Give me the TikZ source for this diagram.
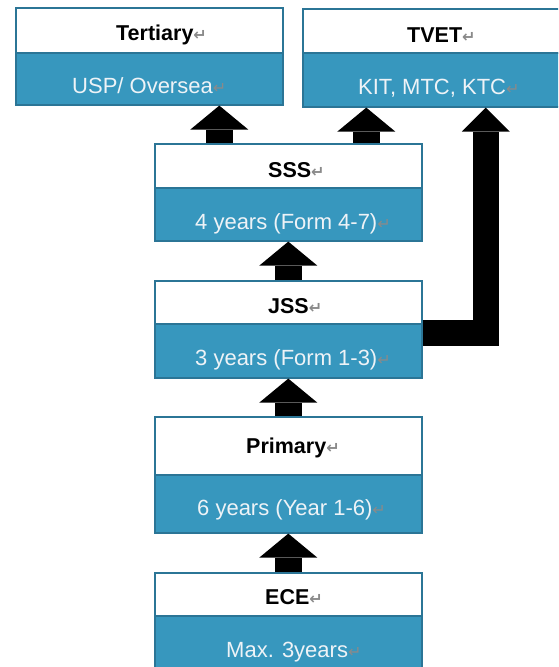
\documentclass[tikz,border=0pt]{standalone}
\usepackage{fontspec}
\setmainfont{Liberation Sans}
\newfontfamily\symfont{DejaVu Sans}
\usetikzlibrary{arrows.meta}
\definecolor{boxblue}{HTML}{3797BE}
\definecolor{boxedge}{HTML}{2B7596}
\definecolor{bodytext}{HTML}{EEF3F7}
\definecolor{retgray}{HTML}{8A8A8A}
\newcommand{\retmark}{{\symfont\fontsize{16}{16}\selectfont\color{retgray}↵}}
\tikzset{
  headbox/.style={draw=boxedge, line width=1.6pt, fill=white, minimum width=267pt, inner sep=0pt, anchor=north west},
  bodybox/.style={draw=boxedge, line width=1.6pt, fill=boxblue, minimum width=267pt, inner sep=0pt, anchor=north west},
  headtext/.style={anchor=base west, inner sep=0pt, font=\fontsize{21.5}{22}\selectfont\bfseries, text=black},
  bodytxt/.style={anchor=base west, inner sep=0pt, font=\fontsize{22}{23}\selectfont, text=bodytext},
  blockarrow/.style={line width=27pt, draw=black, line join=miter, -{Triangle[width=58pt,length=24pt,line width=0pt]}},
  longarrow/.style={line width=25.5pt, draw=black, line join=miter, -{Triangle[width=48pt,length=24pt,line width=0pt]}}
}
\begin{document}
\begin{tikzpicture}[x=1pt,y=1pt]
\useasboundingbox (0,-667) rectangle (558,0);
\clip (0,-667) rectangle (558,0);
\fill[white] (0,-667) rectangle (558,0);
% boxes
\node[headbox, minimum height=45pt] (tertT) at (15,-7) {};
\node[bodybox, minimum height=52pt] (tertB) at (15,-52) {};
\node[headbox, minimum height=44pt] (tvetT) at (302,-8) {};
\node[bodybox, minimum height=54pt] (tvetB) at (302,-52) {};
\node[headbox, minimum height=44pt] (sssT) at (154,-143) {};
\node[bodybox, minimum height=53pt] (sssB) at (154,-187) {};
\node[headbox, minimum height=43pt] (jssT) at (154,-280) {};
\node[bodybox, minimum height=54pt] (jssB) at (154,-323) {};
\node[headbox, minimum height=58pt] (priT) at (154,-416) {};
\node[bodybox, minimum height=58pt] (priB) at (154,-474) {};
\node[headbox, minimum height=43pt] (eceT) at (154,-572) {};
\node[bodybox, minimum height=62pt] (eceB) at (154,-615) {};
% texts
\node[headtext] (tertTx) at (116,-40) {Tertiary\retmark};
\node[bodytxt] (tertBx) at (72,-93) {USP/ Oversea\retmark};
\node[headtext] (tvetTx) at (407,-42) {TVET\retmark};
\node[bodytxt] (tvetBx) at (358,-94) {KIT, MTC, KTC\retmark};
\node[headtext] (sssTx) at (268,-177) {SSS\retmark};
\node[bodytxt] (sssBx) at (195,-229) {4 years (Form 4-7)\retmark};
\node[headtext] (jssTx) at (268,-313) {JSS\retmark};
\node[bodytxt] (jssBx) at (195,-365) {3 years (Form 1-3)\retmark};
\node[headtext] (priTx) at (246,-453) {Primary\retmark};
\node[bodytxt] (priBx) at (197,-515) {6 years (Year 1-6)\retmark};
\node[headtext] (eceTx) at (265,-604) {ECE\retmark};
\node[bodytxt] (eceBx) at (226,-657) {Max. 3years\retmark};
% arrows
\draw[blockarrow] ([xshift=-69pt]sssT.north) -- ([xshift=-69pt]sssT.north |- tertB.south);
\draw[blockarrow] ([xshift=78pt]sssT.north) -- ([xshift=78pt]sssT.north |- tvetB.south);
\draw[blockarrow] (jssT.north) -- (sssB.south);
\draw[blockarrow] (priT.north) -- (jssB.south);
\draw[blockarrow] (eceT.north) -- (priB.south);
\draw[longarrow] ([yshift=-8.5pt]jssT.south east) -| ([xshift=49.5pt]tvetB.south);
\end{tikzpicture}
\end{document}
